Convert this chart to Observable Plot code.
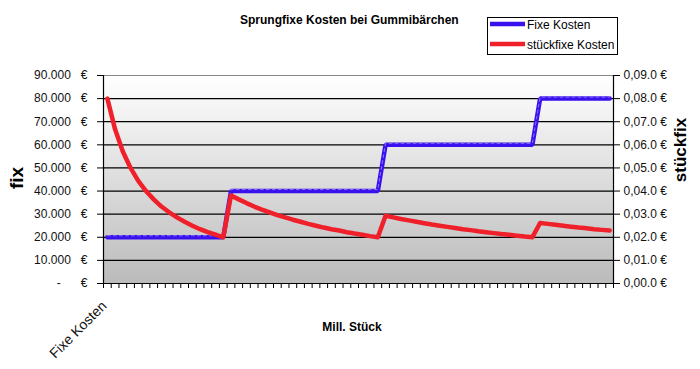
<!DOCTYPE html>
<html><head><meta charset="utf-8">
<script src="https://cdn.jsdelivr.net/npm/d3@7"></script>
<script src="https://cdn.jsdelivr.net/npm/@observablehq/plot@0.6"></script>
<style>
body{margin:0;background:#fff;}
#wrap{width:700px;height:369px;}
</style></head><body><div id="wrap"></div>
<script>
// ---- data ----
const xTickLabel = "Fixe Kosten";
const fixeKosten = [
  20000,20000,20000,20000,20000,20000,20000,20000,20000,20000,20000,20000,20000,20000,20000,20000,
  40000,40000,40000,40000,40000,40000,40000,40000,40000,40000,40000,40000,40000,40000,40000,40000,40000,40000,40000,40000,
  60000,60000,60000,60000,60000,60000,60000,60000,60000,60000,60000,60000,60000,60000,60000,60000,60000,60000,60000,60000,
  80000,80000,80000,80000,80000,80000,80000,80000,80000,80000
];
const stueckfixeKosten = [
  0.0800,0.0667,0.0571,0.0500,0.0444,0.0400,0.0364,0.0333,0.0308,0.0286,0.0267,0.0250,0.0235,0.0222,0.0211,0.0200,
  0.0381,0.0364,0.0348,0.0333,0.0320,0.0308,0.0296,0.0286,0.0276,0.0267,0.0258,0.0250,0.0242,0.0235,0.0229,0.0222,0.0216,0.0211,0.0205,0.0200,
  0.0293,0.0286,0.0279,0.0273,0.0267,0.0261,0.0255,0.0250,0.0245,0.0240,0.0235,0.0231,0.0226,0.0222,0.0218,0.0214,0.0211,0.0207,0.0203,0.0200,
  0.0262,0.0258,0.0254,0.0250,0.0246,0.0242,0.0239,0.0235,0.0232,0.0229
];
const yTicks = [0,10000,20000,30000,40000,50000,60000,70000,80000,90000];
const sp = "\u00a0\u00a0\u00a0";
const leftTickLabels = ["-\u00a0\u00a0\u00a0\u00a0\u00a0\u00a0€","10.000"+sp+"€","20.000"+sp+"€","30.000"+sp+"€","40.000"+sp+"€","50.000"+sp+"€","60.000"+sp+"€","70.000"+sp+"€","80.000"+sp+"€","90.000"+sp+"€"];
const rightTickLabels = ["0,00.0 €","0,01.0 €","0,02.0 €","0,03.0 €","0,04.0 €","0,05.0 €","0,06.0 €","0,07.0 €","0,08.0 €","0,09.0 €"];
const seriesNames = ["Fixe Kosten","stückfixe Kosten"];
const colors = ["#3a10ee","#f0202a"];
const titleText = "Sprungfixe Kosten bei Gummibärchen";
const xTitle = "Mill. Stück", yTitleLeft = "fix", yTitleRight = "stückfix";
const rightFactor = 1e6; // right axis 0–0,09 € aligned with left 0–90.000 €

const n = fixeKosten.length;
const data = fixeKosten.map((f, i) => ({i: i + 0.5, fix: f, st: stueckfixeKosten[i] * rightFactor}));

const chart = Plot.plot({
  width: 700, height: 369,
  marginLeft: 103, marginRight: 87, marginTop: 75, marginBottom: 86,
  x: {type: "linear", domain: [0, n], axis: null},
  y: {domain: [0, 90000], axis: null},
  style: {fontFamily: "'Liberation Sans', Arial, sans-serif", fontSize: "12px", color: "#000", background: "transparent", overflow: "visible"},
  marks: [
    Plot.frame({fill: "url(#bgGrad)"}),
    Plot.ruleY(yTicks.filter(d => d > 0 && d < 90000), {stroke: "#000", strokeWidth: 1.2}),
    Plot.ruleY([90000], {stroke: "#888"}),
    Plot.ruleY([0], {stroke: "#000", strokeWidth: 1.2}),
    Plot.ruleX([0, n], {stroke: "#000", strokeWidth: 1.2}),
    Plot.axisY({anchor: "left", ticks: yTicks, tickFormat: d => leftTickLabels[yTicks.indexOf(d)], tickSize: 6, tickPadding: 10, label: null, fill: "#111"}),
    Plot.axisY({anchor: "right", ticks: yTicks, tickFormat: d => rightTickLabels[yTicks.indexOf(d)], tickSize: 6, tickPadding: 4, label: null, fill: "#111"}),
    Plot.axisX({ticks: d3.range(n + 1), tickFormat: () => "", tickSize: 5, label: null}),
    Plot.line(data, {x: "i", y: "fix", stroke: colors[0], strokeWidth: 4.5, strokeLinejoin: "miter"}),
    Plot.line(data, {x: "i", y: "fix", stroke: "#9a8cff", strokeWidth: 1, strokeDasharray: "3,3", dy: -1.5, strokeOpacity: 0.8}),
    Plot.line(data, {x: "i", y: "st", stroke: colors[1], strokeWidth: 4.5}),
    Plot.text([xTickLabel], {x: 0.5, y: 0, text: d => d, rotate: -45, textAnchor: "end", dx: -3, dy: 20, fontSize: 14, fill: "#111"})
  ]
});
document.getElementById("wrap").appendChild(chart);

const svg = d3.select(chart);
const defs = svg.insert("defs", ":first-child");
const g = defs.append("linearGradient").attr("id", "bgGrad").attr("x1", 0).attr("y1", 0).attr("x2", 0).attr("y2", 1);
g.append("stop").attr("offset", "0%").attr("stop-color", "#ffffff");
g.append("stop").attr("offset", "100%").attr("stop-color", "#bbbbbb");

const ov = svg.append("g").attr("font-family", "'Liberation Sans', Arial, sans-serif").attr("fill", "#000").attr("text-anchor", "start");
ov.append("text").attr("x", 240).attr("y", 24).attr("text-anchor", "start").attr("font-size", 12).attr("font-weight", "bold").text(titleText);
ov.append("text").attr("x", 352).attr("y", 331).attr("text-anchor", "middle").attr("font-size", 12).attr("font-weight", "bold").text(xTitle);
ov.append("text").attr("transform", "translate(23,178) rotate(-90)").attr("text-anchor", "middle").attr("font-size", 19).attr("font-weight", "bold").text(yTitleLeft);
ov.append("text").attr("transform", "translate(686,150) rotate(-90)").attr("text-anchor", "middle").attr("font-size", 17).attr("font-weight", "bold").text(yTitleRight);
// legend
const lg = ov.append("g");
lg.append("rect").attr("x", 487.5).attr("y", 17.5).attr("width", 130).attr("height", 37).attr("fill", "#fff").attr("stroke", "#000");
seriesNames.forEach((name, k) => {
  const yy = 24 + k * 20;
  lg.append("line").attr("x1", 490).attr("x2", 525).attr("y1", yy).attr("y2", yy).attr("stroke", colors[k]).attr("stroke-width", 4.5);
  lg.append("text").attr("x", 527).attr("y", yy + 4.5).attr("text-anchor", "start").attr("font-size", 12).text(name);
});
</script></body></html>
